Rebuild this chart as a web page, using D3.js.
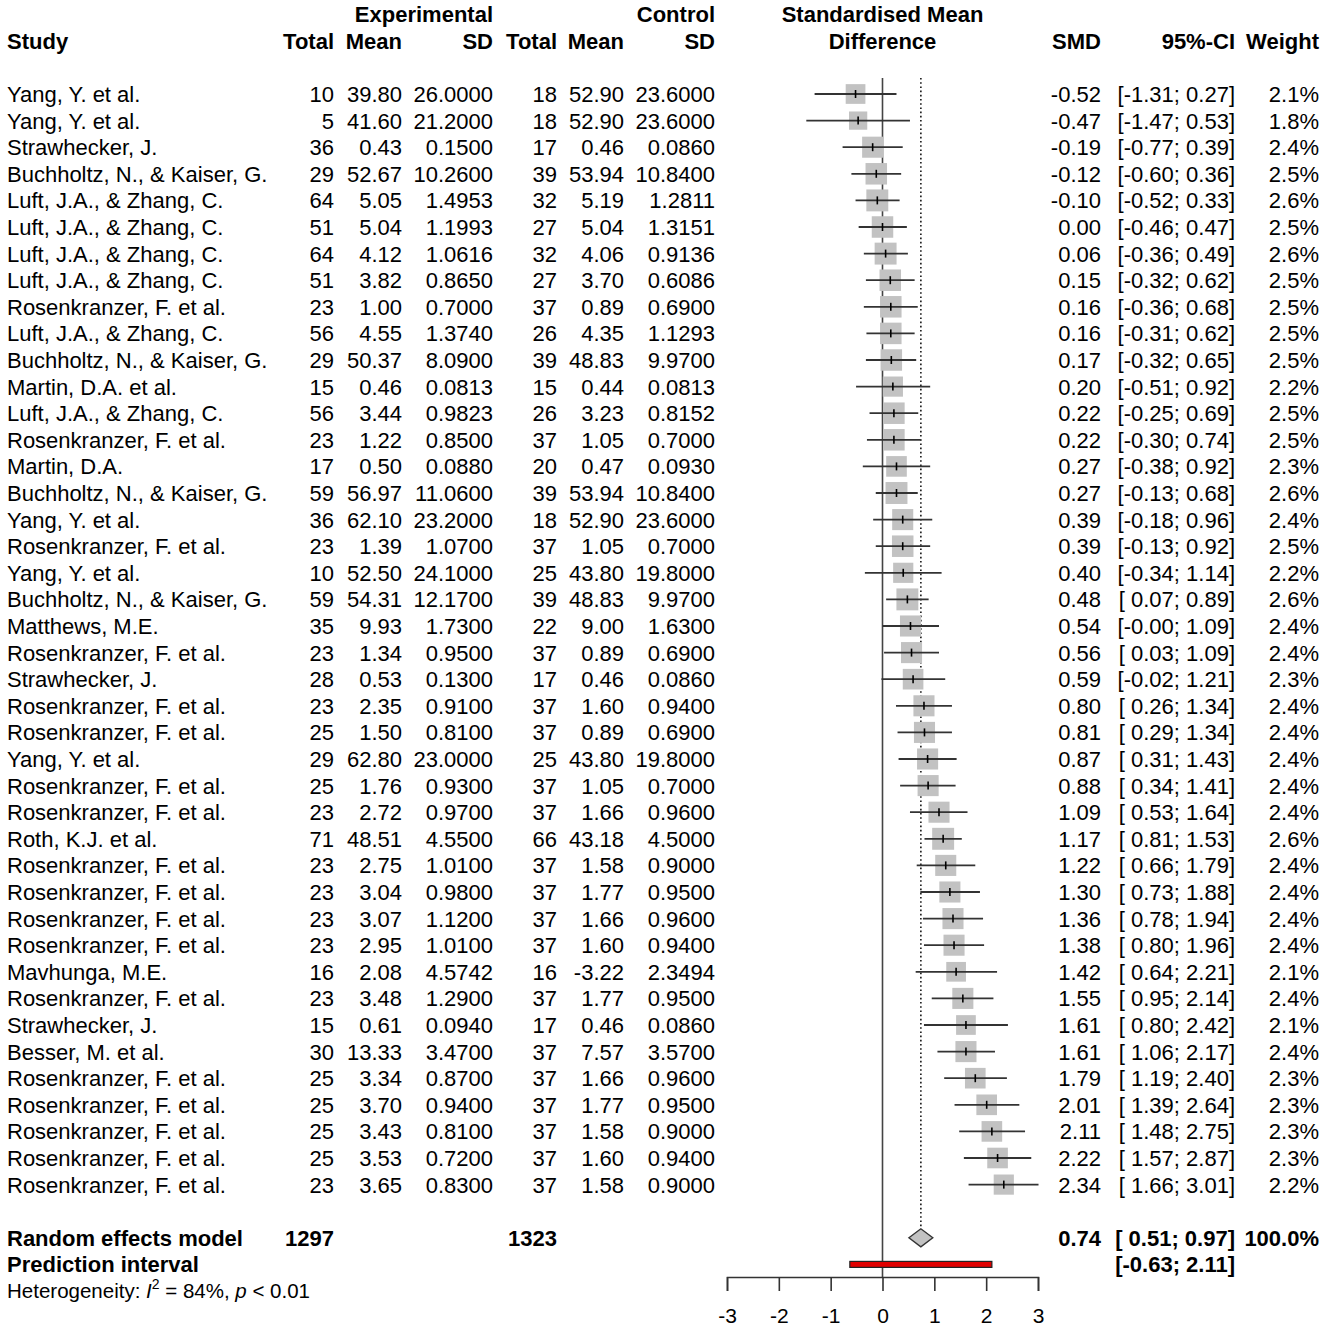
<!DOCTYPE html>
<html>
<head>
<meta charset="utf-8">
<script src="https://cdn.jsdelivr.net/npm/d3@7"></script>
<style>
  body { margin: 0; background: #fff; }
  svg text { font-family: "Liberation Sans", Arial, sans-serif; fill: #000; white-space: pre; }
</style>
</head>
<body>
<svg id="chart" width="1325" height="1330"></svg>
<script>
const studies = ["Yang, Y. et al.","Yang, Y. et al.","Strawhecker, J.","Buchholtz, N., & Kaiser, G.","Luft, J.A., & Zhang, C.","Luft, J.A., & Zhang, C.","Luft, J.A., & Zhang, C.","Luft, J.A., & Zhang, C.","Rosenkranzer, F. et al.","Luft, J.A., & Zhang, C.","Buchholtz, N., & Kaiser, G.","Martin, D.A. et al.","Luft, J.A., & Zhang, C.","Rosenkranzer, F. et al.","Martin, D.A.","Buchholtz, N., & Kaiser, G.","Yang, Y. et al.","Rosenkranzer, F. et al.","Yang, Y. et al.","Buchholtz, N., & Kaiser, G.","Matthews, M.E.","Rosenkranzer, F. et al.","Strawhecker, J.","Rosenkranzer, F. et al.","Rosenkranzer, F. et al.","Yang, Y. et al.","Rosenkranzer, F. et al.","Rosenkranzer, F. et al.","Roth, K.J. et al.","Rosenkranzer, F. et al.","Rosenkranzer, F. et al.","Rosenkranzer, F. et al.","Rosenkranzer, F. et al.","Mavhunga, M.E.","Rosenkranzer, F. et al.","Strawhecker, J.","Besser, M. et al.","Rosenkranzer, F. et al.","Rosenkranzer, F. et al.","Rosenkranzer, F. et al.","Rosenkranzer, F. et al.","Rosenkranzer, F. et al."];
const expTotal = [10,5,36,29,64,51,64,51,23,56,29,15,56,23,17,59,36,23,10,59,35,23,28,23,25,29,25,23,71,23,23,23,23,16,23,15,30,25,25,25,25,23];
const expMean = [39.80,41.60,0.43,52.67,5.05,5.04,4.12,3.82,1.00,4.55,50.37,0.46,3.44,1.22,0.50,56.97,62.10,1.39,52.50,54.31,9.93,1.34,0.53,2.35,1.50,62.80,1.76,2.72,48.51,2.75,3.04,3.07,2.95,2.08,3.48,0.61,13.33,3.34,3.70,3.43,3.53,3.65];
const expSD = [26.0000,21.2000,0.1500,10.2600,1.4953,1.1993,1.0616,0.8650,0.7000,1.3740,8.0900,0.0813,0.9823,0.8500,0.0880,11.0600,23.2000,1.0700,24.1000,12.1700,1.7300,0.9500,0.1300,0.9100,0.8100,23.0000,0.9300,0.9700,4.5500,1.0100,0.9800,1.1200,1.0100,4.5742,1.2900,0.0940,3.4700,0.8700,0.9400,0.8100,0.7200,0.8300];
const ctrlTotal = [18,18,17,39,32,27,32,27,37,26,39,15,26,37,20,39,18,37,25,39,22,37,17,37,37,25,37,37,66,37,37,37,37,16,37,17,37,37,37,37,37,37];
const ctrlMean = [52.90,52.90,0.46,53.94,5.19,5.04,4.06,3.70,0.89,4.35,48.83,0.44,3.23,1.05,0.47,53.94,52.90,1.05,43.80,48.83,9.00,0.89,0.46,1.60,0.89,43.80,1.05,1.66,43.18,1.58,1.77,1.66,1.60,-3.22,1.77,0.46,7.57,1.66,1.77,1.58,1.60,1.58];
const ctrlSD = [23.6000,23.6000,0.0860,10.8400,1.2811,1.3151,0.9136,0.6086,0.6900,1.1293,9.9700,0.0813,0.8152,0.7000,0.0930,10.8400,23.6000,0.7000,19.8000,9.9700,1.6300,0.6900,0.0860,0.9400,0.6900,19.8000,0.7000,0.9600,4.5000,0.9000,0.9500,0.9600,0.9400,2.3494,0.9500,0.0860,3.5700,0.9600,0.9500,0.9000,0.9400,0.9000];
const smd = [-0.52,-0.47,-0.19,-0.12,-0.10,0.00,0.06,0.15,0.16,0.16,0.17,0.20,0.22,0.22,0.27,0.27,0.39,0.39,0.40,0.48,0.54,0.56,0.59,0.80,0.81,0.87,0.88,1.09,1.17,1.22,1.30,1.36,1.38,1.42,1.55,1.61,1.61,1.79,2.01,2.11,2.22,2.34];
const ciLow = [-1.31,-1.47,-0.77,-0.60,-0.52,-0.46,-0.36,-0.32,-0.36,-0.31,-0.32,-0.51,-0.25,-0.30,-0.38,-0.13,-0.18,-0.13,-0.34,0.07,-0.00,0.03,-0.02,0.26,0.29,0.31,0.34,0.53,0.81,0.66,0.73,0.78,0.80,0.64,0.95,0.80,1.06,1.19,1.39,1.48,1.57,1.66];
const ciHigh = [0.27,0.53,0.39,0.36,0.33,0.47,0.49,0.62,0.68,0.62,0.65,0.92,0.69,0.74,0.92,0.68,0.96,0.92,1.14,0.89,1.09,1.09,1.21,1.34,1.34,1.43,1.41,1.64,1.53,1.79,1.88,1.94,1.96,2.21,2.14,2.42,2.17,2.40,2.64,2.75,2.87,3.01];
const weight = [2.1,1.8,2.4,2.5,2.6,2.5,2.6,2.5,2.5,2.5,2.5,2.2,2.5,2.5,2.3,2.6,2.4,2.5,2.2,2.6,2.4,2.4,2.3,2.4,2.4,2.4,2.4,2.4,2.6,2.4,2.4,2.4,2.4,2.1,2.4,2.1,2.4,2.3,2.3,2.3,2.3,2.2];

const pooled = { totalExp: 1297, totalCtrl: 1323, smd: 0.74, lo: 0.51, hi: 0.97, weight: 100.0 };
const prediction = { lo: -0.63, hi: 2.11 };
const heterogeneity = { i2: 84, p: "< 0.01" };
const axisTicks = [-3, -2, -1, 0, 1, 2, 3];

const svg = d3.select("#chart");
svg.append("rect").attr("width", 1325).attr("height", 1330).attr("fill", "#fff");

const rowH = 26.6;
const y0 = 94;
const yRow = i => y0 + i * rowH;
const nRows = studies.length;
const yRE = yRow(nRows + 1);
const yPI = yRow(nRows + 2);
const yHet = yRow(nRows + 3);
const axisY = 1277;

const x = d3.scaleLinear().domain([-3, 3]).range([727, 1038]);

const fs = 22;
const base = fs * 0.36;

const fmt = (v, d) => (Object.is(v, -0) ? "-" + Math.abs(v).toFixed(d) : v.toFixed(d));
const pad = (v) => (v < 0 || Object.is(v, -0) ? fmt(v, 2) : " " + fmt(v, 2));
const ci = (lo, hi) => "[" + pad(lo) + "; " + fmt(hi, 2) + "]";

const colX = { study: 7, eTot: 334, eMean: 402, eSD: 493, cTot: 557, cMean: 624, cSD: 715, smd: 1101, ci: 1235, w: 1319 };

const cols = [
  { x: colX.study, anchor: "start", get: i => studies[i] },
  { x: colX.eTot, anchor: "end", get: i => String(expTotal[i]) },
  { x: colX.eMean, anchor: "end", get: i => fmt(expMean[i], 2) },
  { x: colX.eSD, anchor: "end", get: i => fmt(expSD[i], 4) },
  { x: colX.cTot, anchor: "end", get: i => String(ctrlTotal[i]) },
  { x: colX.cMean, anchor: "end", get: i => fmt(ctrlMean[i], 2) },
  { x: colX.cSD, anchor: "end", get: i => fmt(ctrlSD[i], 4) },
  { x: colX.smd, anchor: "end", get: i => fmt(smd[i], 2) },
  { x: colX.ci, anchor: "end", get: i => ci(ciLow[i], ciHigh[i]) },
  { x: colX.w, anchor: "end", get: i => weight[i].toFixed(1) + "%" }
];

const idx = d3.range(nRows);
const tg = svg.append("g").attr("font-size", fs);
cols.forEach(c => {
  tg.selectAll(null).data(idx).enter().append("text")
    .attr("x", c.x).attr("y", i => yRow(i) + base)
    .attr("text-anchor", c.anchor)
    .text(c.get);
});

// headers
const hg = svg.append("g").attr("font-size", fs).attr("font-weight", "bold");
const h1 = yRow(-3) + base, h2 = yRow(-2) + base;
[
  [colX.study, h2, "start", "Study"],
  [colX.eTot, h2, "end", "Total"], [colX.eMean, h2, "end", "Mean"], [colX.eSD, h2, "end", "SD"],
  [colX.cTot, h2, "end", "Total"], [colX.cMean, h2, "end", "Mean"], [colX.cSD, h2, "end", "SD"],
  [colX.eSD, h1, "end", "Experimental"], [colX.cSD, h1, "end", "Control"],
  [x(0), h1, "middle", "Standardised Mean"], [x(0), h2, "middle", "Difference"],
  [colX.smd, h2, "end", "SMD"], [colX.ci, h2, "end", "95%-CI"], [colX.w, h2, "end", "Weight"]
].forEach(([hx, hy, a, t]) => hg.append("text").attr("x", hx).attr("y", hy).attr("text-anchor", a).text(t));

// pooled rows
const bg = svg.append("g").attr("font-size", fs).attr("font-weight", "bold");
bg.append("text").attr("x", colX.study).attr("y", yRE + base).text("Random effects model");
bg.append("text").attr("x", colX.eTot).attr("y", yRE + base).attr("text-anchor", "end").text(String(pooled.totalExp));
bg.append("text").attr("x", colX.cTot).attr("y", yRE + base).attr("text-anchor", "end").text(String(pooled.totalCtrl));
bg.append("text").attr("x", colX.smd).attr("y", yRE + base).attr("text-anchor", "end").text(fmt(pooled.smd, 2));
bg.append("text").attr("x", colX.ci).attr("y", yRE + base).attr("text-anchor", "end").text(ci(pooled.lo, pooled.hi));
bg.append("text").attr("x", colX.w).attr("y", yRE + base).attr("text-anchor", "end").text(pooled.weight.toFixed(1) + "%");
bg.append("text").attr("x", colX.study).attr("y", yPI + base).text("Prediction interval");
bg.append("text").attr("x", colX.ci).attr("y", yPI + base).attr("text-anchor", "end").text(ci(prediction.lo, prediction.hi));

// heterogeneity
const het = svg.append("text").attr("x", 7).attr("y", yHet + 7).attr("font-size", 20.5);
het.append("tspan").text("Heterogeneity: ");
het.append("tspan").attr("font-style", "italic").text("I");
het.append("tspan").attr("font-size", 14).attr("dy", -9).text("2");
het.append("tspan").attr("dy", 9).text(" = " + heterogeneity.i2 + "%, ");
het.append("tspan").attr("font-style", "italic").text("p");
het.append("tspan").text(" " + heterogeneity.p);

// plot: reference lines
const topY = 78;
svg.append("line").attr("x1", x(0)).attr("x2", x(0)).attr("y1", topY).attr("y2", axisY)
  .attr("stroke", "#444").attr("stroke-width", 1.6);
svg.append("line").attr("x1", x(pooled.smd)).attr("x2", x(pooled.smd)).attr("y1", topY).attr("y2", yRE - 9)
  .attr("stroke", "#222").attr("stroke-width", 1.7).attr("stroke-dasharray", "1.6,2.6");

// study marks
const k = 13.6;
const mg = svg.append("g");
mg.selectAll("rect.sq").data(idx).enter().append("rect").attr("class", "sq")
  .attr("x", i => x(smd[i]) - k * Math.sqrt(weight[i]) / 2)
  .attr("y", i => yRow(i) - k * Math.sqrt(weight[i]) / 2)
  .attr("width", i => k * Math.sqrt(weight[i]))
  .attr("height", i => k * Math.sqrt(weight[i]))
  .attr("fill", "#c2c2c2");
mg.selectAll("line.ci").data(idx).enter().append("line").attr("class", "ci")
  .attr("x1", i => x(ciLow[i])).attr("x2", i => x(ciHigh[i]))
  .attr("y1", yRow).attr("y2", yRow)
  .attr("stroke", "#333").attr("stroke-width", 1.8);
mg.selectAll("line.pt").data(idx).enter().append("line").attr("class", "pt")
  .attr("x1", i => x(smd[i])).attr("x2", i => x(smd[i]))
  .attr("y1", i => yRow(i) - 4).attr("y2", i => yRow(i) + 4)
  .attr("stroke", "#000").attr("stroke-width", 1.6);

// diamond
const dh = 9;
svg.append("polygon")
  .attr("points", [[x(pooled.lo), yRE], [x(pooled.smd), yRE - dh], [x(pooled.hi), yRE], [x(pooled.smd), yRE + dh]].map(p => p.join(",")).join(" "))
  .attr("fill", "#c2c2c2").attr("stroke", "#333").attr("stroke-width", 1.4);

// prediction interval
svg.append("rect").attr("x", x(prediction.lo)).attr("y", yPI - 3)
  .attr("width", x(prediction.hi) - x(prediction.lo)).attr("height", 6)
  .attr("fill", "#e00000").attr("stroke", "#222").attr("stroke-width", 1.2);

// axis
const ax = svg.append("g").attr("transform", `translate(0,${axisY})`)
  .call(d3.axisBottom(x).tickValues(axisTicks).tickSize(14).tickPadding(17).tickFormat(d => String(d)));
ax.select(".domain").attr("stroke", "#333").attr("stroke-width", 1.6);
ax.selectAll(".tick line").attr("stroke", "#333").attr("stroke-width", 1.6);
ax.selectAll(".tick text").attr("font-size", 21).attr("font-family", "Liberation Sans, Arial, sans-serif").attr("fill", "#000");
</script>
</body>
</html>
